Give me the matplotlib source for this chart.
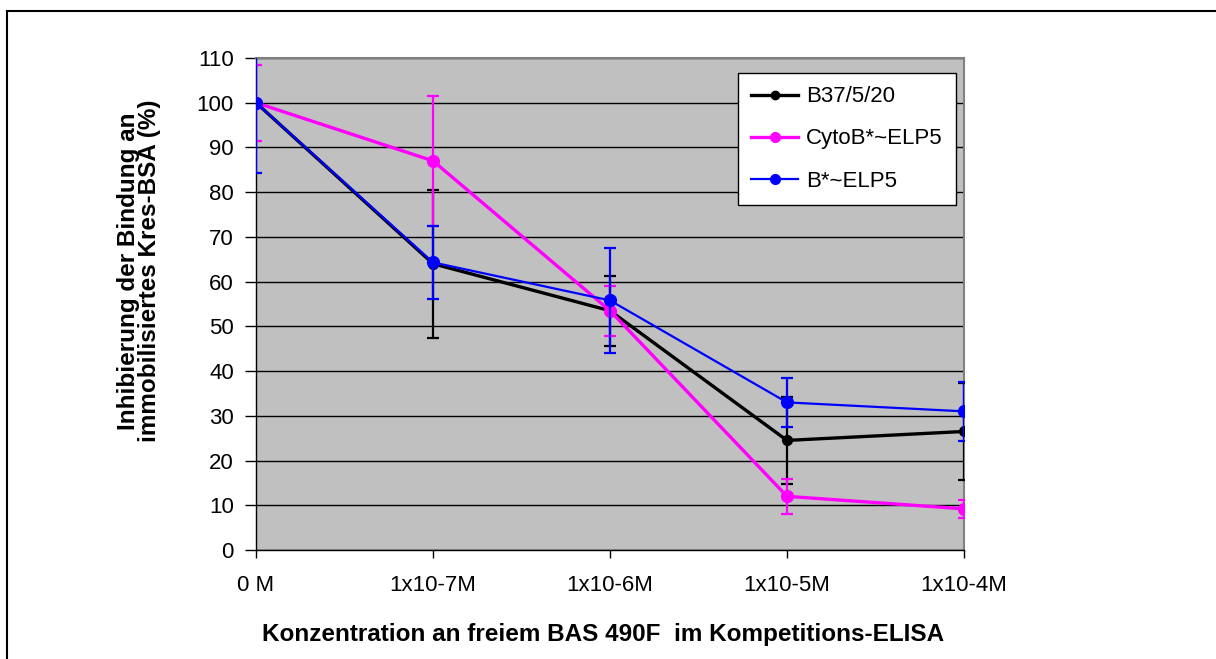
import matplotlib.pyplot as plt
from matplotlib.patches import Rectangle
from matplotlib.lines import Line2D
import numpy as np

plt.rcParams['font.family'] = ['Liberation Sans', 'DejaVu Sans']

# Concentration categories
categories = ['0 M', '1x10-7M', '1x10-6M', '1x10-5M', '1x10-4M']

# Inhibition (%) and error bars
b37 = np.array([100, 64, 53.5, 24.5, 26.5])
b37_err = np.array([0, 16.5, 7.8, 9.7, 10.8])
cyto = np.array([100, 87, 53.5, 12, 9.2])
cyto_err = np.array([8.5, 14.5, 5.6, 3.9, 2.0])
belp = np.array([100, 64.3, 55.8, 33, 31])
belp_err = np.array([15.7, 8.1, 11.7, 5.4, 6.6])

fig = plt.figure(figsize=(12.16, 6.59), dpi=100)
ax = fig.add_axes([256 / 1216, 1 - 550 / 659, 708 / 1216, 492 / 659])
ax.set_facecolor('#C0C0C0')

x = np.arange(len(categories))

ax.errorbar(x, b37, yerr=b37_err, fmt='o-', color='black', lw=2.4, ms=7,
            elinewidth=1.6, capsize=4, capthick=1.6, zorder=3)
ax.errorbar(x, cyto, yerr=cyto_err, fmt='o-', color='#FF00FF', lw=2.4, ms=8.5,
            elinewidth=1.6, capsize=4, capthick=1.6, zorder=4)
ax.errorbar(x, belp, yerr=belp_err, fmt='o-', color='#0000FF', lw=1.6, ms=8.5,
            elinewidth=1.6, capsize=4, capthick=1.6, zorder=5)

ax.set_xlim(0, 4)
ax.set_ylim(0, 110)
ax.set_yticks(np.arange(0, 111, 10))
ax.set_xticks(x)
ax.set_xticklabels(categories)
ax.yaxis.grid(True, color='black', lw=1)
ax.set_axisbelow(True)
ax.tick_params(axis='y', labelsize=16, direction='out', length=8, width=1, pad=8)
ax.tick_params(axis='x', labelsize=16, direction='out', length=6, width=1, pad=12)

for side in ['top', 'right']:
    ax.spines[side].set_color('#808080')
    ax.spines[side].set_linewidth(1.5)
for side in ['left', 'bottom']:
    ax.spines[side].set_color('black')
    ax.spines[side].set_linewidth(1)

handles = [
    Line2D([], [], color='black', lw=2.4, marker='o', ms=6),
    Line2D([], [], color='#FF00FF', lw=2.4, marker='o', ms=7),
    Line2D([], [], color='#0000FF', lw=1.6, marker='o', ms=7),
]
labels = ['B37/5/20', 'CytoB*~ELP5', 'B*~ELP5']
leg = ax.legend(handles, labels, loc='upper left',
                bbox_to_anchor=((738 - 256) / 708, (550 - 73) / 492),
                fontsize=16, frameon=True, fancybox=False, handlelength=2.1,
                labelspacing=0.95, borderpad=0.6, handletextpad=0.35,
                borderaxespad=0)
leg.get_frame().set_edgecolor('black')
leg.get_frame().set_linewidth(1)
leg.get_frame().set_facecolor('white')
leg.get_frame().set_alpha(1)

fig.text(139 / 1216, 1 - 271 / 659,
         'Inhibierung der Bindung an\nimmobilisiertes Kres-BSA (%)',
         rotation=90, ha='center', va='center', fontsize=17.5, fontweight='bold',
         linespacing=0.9)
fig.text(603 / 1216, 1 - 634 / 659,
         'Konzentration an freiem BAS 490F  im Kompetitions-ELISA',
         ha='center', va='center', fontsize=17.5, fontweight='bold')

# outer chart frame
fig.patches.append(Rectangle((7 / 1216, -0.1), 1.2, 1 - 11 / 659 + 0.1,
                             transform=fig.transFigure, fill=False,
                             edgecolor='black', lw=1.5))

fig.savefig('out.png', dpi=100)
